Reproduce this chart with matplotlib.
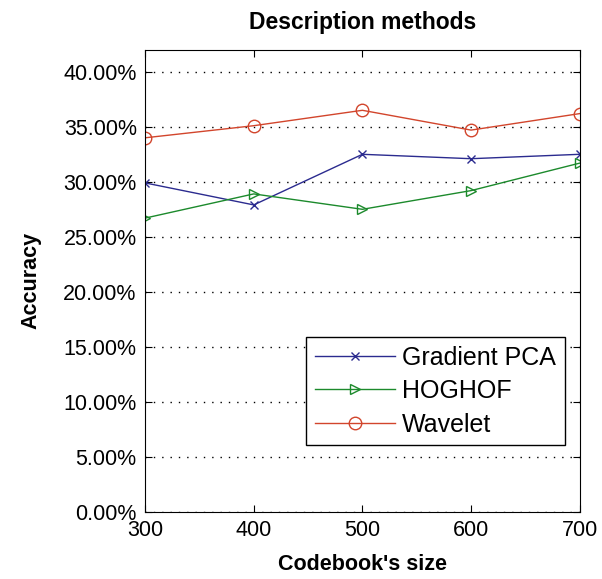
import matplotlib
matplotlib.use('Agg')
import matplotlib.pyplot as plt
from matplotlib.ticker import FuncFormatter

plt.rcParams['font.family'] = ['Liberation Sans', 'DejaVu Sans']

sizes = [300, 400, 500, 600, 700]
gradient_pca = [29.9, 27.9, 32.5, 32.1, 32.5]
hoghof = [26.7, 28.9, 27.5, 29.2, 31.7]
wavelet = [34.0, 35.1, 36.5, 34.7, 36.2]
yticks = [0, 5, 10, 15, 20, 25, 30, 35, 40]

fig = plt.figure(figsize=(6.02, 5.79), dpi=100)
ax = fig.add_axes([0.241, 0.116, 0.722, 0.798])

ax.plot(sizes, gradient_pca, color='#2b2b8f', marker='x', ms=6, lw=1,
        label='Gradient PCA')
ax.plot(sizes, hoghof, color='#1c8a2c', marker='>', ms=7, lw=1,
        mfc='none', label='HOGHOF')
ax.plot(sizes, wavelet, color='#d2452c', marker='o', ms=9, lw=1,
        mfc='none', label='Wavelet')

ax.set_xlim(300, 700)
ax.set_ylim(0, 42)
ax.set_xticks(sizes)
ax.set_yticks(yticks)
ax.yaxis.set_major_formatter(FuncFormatter(lambda v, p: '%.2f%%' % v))
ax.yaxis.grid(True, linestyle=(0, (1, 5)), color='black', lw=1)
ax.tick_params(direction='in', top=True, right=True, labelsize=15.5,
               length=5, pad=6)

ax.set_title('Description methods', fontsize=16.5, fontweight='bold', pad=15)
ax.set_xlabel("Codebook's size", fontsize=15.5, fontweight='bold', labelpad=9)
ax.set_ylabel('Accuracy', fontsize=15.5, fontweight='bold', labelpad=16)

leg = ax.legend(loc='lower right', bbox_to_anchor=(0.966, 0.144), fontsize=18,
                fancybox=False, edgecolor='black', framealpha=1,
                handlelength=3.2, handletextpad=0.3, borderpad=0.35,
                labelspacing=0.38, borderaxespad=0)
leg.get_frame().set_linewidth(1)

fig.savefig('out.png', dpi=100)
